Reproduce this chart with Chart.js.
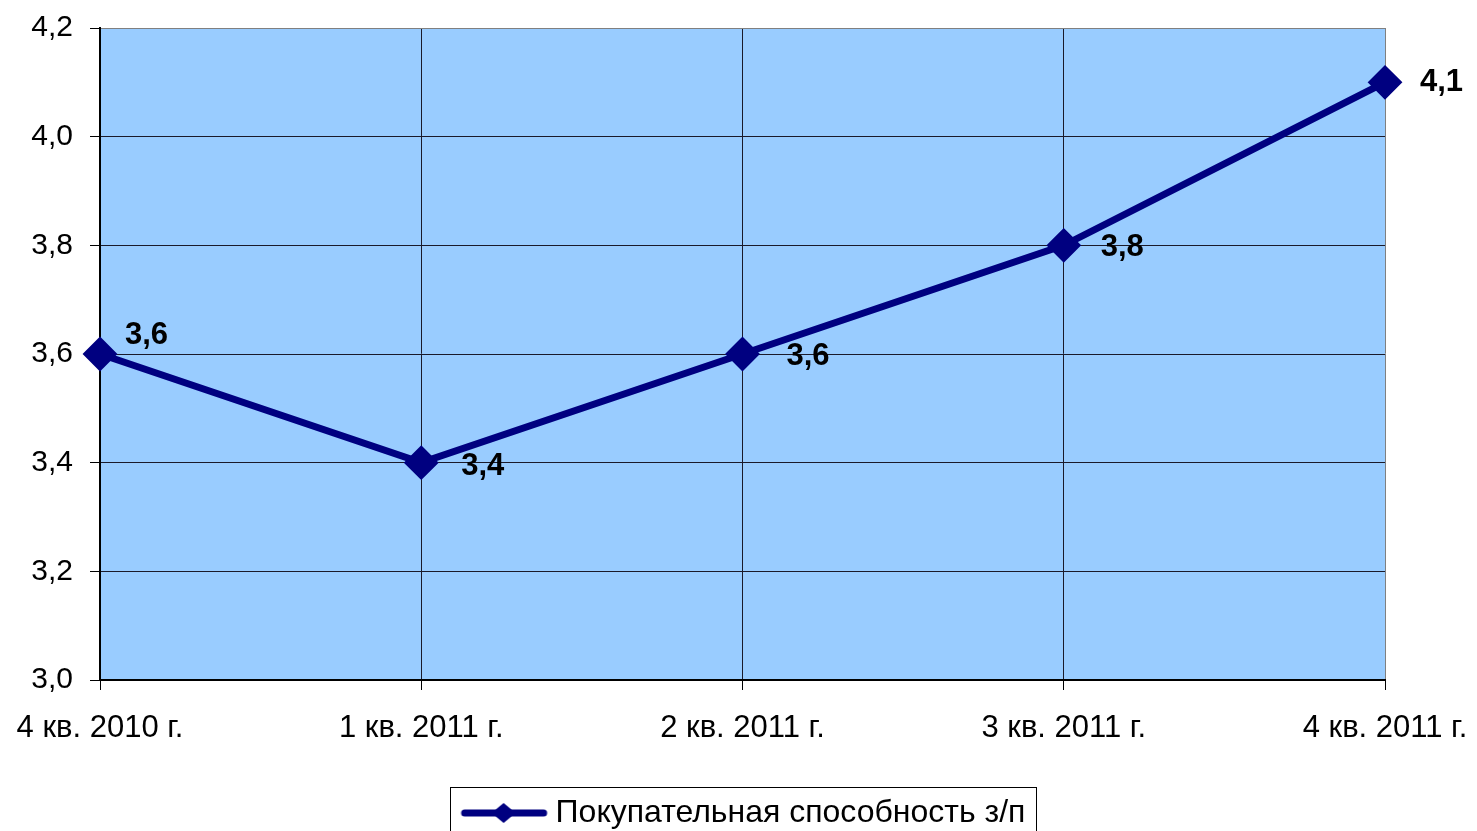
<!DOCTYPE html>
<html>
<head>
<meta charset="utf-8">
<script src="https://cdn.jsdelivr.net/npm/chart.js@4"></script>
<style>
  html, body { margin: 0; padding: 0; background: #fff; }
  #wrap { width: 1477px; height: 831px; }
</style>
</head>
<body>
<div id="wrap"><canvas id="grafica"></canvas></div>
<script>
// ── datos ─────────────────────────────────────────────
const periodos = ['4 кв. 2010 г.', '1 кв. 2011 г.', '2 кв. 2011 г.', '3 кв. 2011 г.', '4 кв. 2011 г.'];
const valores = [3.6, 3.4, 3.6, 3.8, 4.1];
const nombreSerie = 'Покупательная способность з/п';
const yMin = 3.0;
const yMax = 4.2;
const yPaso = 0.2;

const AZUL = '#000080';
const FONDO = '#99CCFF';
const FUENTE = '"Liberation Sans", Arial, sans-serif';

const coma = v => v.toFixed(1).replace('.', ',');

// icono de leyenda: línea con rombo
function iconoLeyenda() {
    const c = document.createElement('canvas');
    c.width = 100; c.height = 24;
    const g = c.getContext('2d');
    g.strokeStyle = AZUL;
    g.lineWidth = 7;
    g.lineCap = 'round';
    g.beginPath(); g.moveTo(15, 12); g.lineTo(94, 12); g.stroke();
    g.fillStyle = AZUL;
    g.beginPath();
    g.moveTo(54, 2); g.lineTo(66, 12); g.lineTo(54, 22); g.lineTo(42, 12);
    g.closePath(); g.fill();
    return c;
}

// fondo del área de trazado
const fondoPlot = {
    id: 'fondoPlot',
    beforeDraw(chart) {
        const a = chart.chartArea, ctx = chart.ctx;
        ctx.save();
        ctx.fillStyle = FONDO;
        ctx.fillRect(a.left, a.top, a.right - a.left, a.bottom - a.top);
        ctx.restore();
    }
};

// etiquetas de valores a la derecha de cada punto
const etiquetas = {
    id: 'etiquetas',
    afterDatasetsDraw(chart, args, opts) {
        const ctx = chart.ctx;
        const meta = chart.getDatasetMeta(0);
        ctx.save();
        ctx.font = 'bold 31px ' + FUENTE;
        ctx.fillStyle = '#000';
        ctx.textBaseline = 'middle';
        ctx.textAlign = 'left';
        meta.data.forEach((p, i) => {
            const d = opts.desplazamientos[i] || [38, 2];
            ctx.fillText(coma(valores[i]), p.x + d[0], p.y + d[1]);
        });
        ctx.restore();
    }
};

// marco de la leyenda
const marcoLeyenda = {
    id: 'marcoLeyenda',
    afterDraw(chart) {
        const lg = chart.legend;
        if (!lg || !lg.legendHitBoxes.length) return;
        const hb = lg.legendHitBoxes[0];
        const ctx = chart.ctx;
        ctx.save();
        ctx.strokeStyle = '#000';
        ctx.lineWidth = 1;
        ctx.strokeRect(Math.round(hb.left - 10) + 0.5, Math.round(lg.top) + 0.5,
            Math.round(hb.width + 20), 60);
        ctx.restore();
    }
};

new Chart(document.getElementById('grafica'), {
    type: 'line',
    data: {
        labels: periodos,
        datasets: [{
            label: nombreSerie,
            data: valores,
            borderColor: AZUL,
            backgroundColor: AZUL,
            borderWidth: 7,
            tension: 0,
            pointStyle: 'rectRot',
            pointRadius: 16,
            pointBorderWidth: 2,
            pointHoverRadius: 16
        }]
    },
    options: {
        responsive: true,
        maintainAspectRatio: false,
        animation: false,
        events: [],
        layout: { padding: { top: 28, right: 92, left: 0, bottom: -8 } },
        plugins: {
            tooltip: { enabled: false },
            etiquetas: {
                desplazamientos: [[25, -19], [40, 4], [44, 2], [37, 2], [35, 0]]
            },
            legend: {
                position: 'bottom',
                fullSize: false,
                labels: {
                    usePointStyle: true,
                    pointStyleWidth: 80,
                    padding: 10,
                    color: '#000',
                    font: { family: FUENTE, size: 32 },
                    generateLabels: chart => [{
                        text: nombreSerie,
                        pointStyle: iconoLeyenda(),
                        fillStyle: AZUL,
                        strokeStyle: AZUL,
                        lineWidth: 0,
                        datasetIndex: 0
                    }]
                }
            }
        },
        scales: {
            x: {
                offset: false,
                grid: {
                    color: ctx => ctx.index === periodos.length - 1 ? '#808080' : '#1a1a2a',
                    lineWidth: 1,
                    tickLength: 10,
                    tickColor: '#000'
                },
                border: { color: '#000', width: 2 },
                ticks: {
                    color: '#000',
                    padding: 20,
                    maxRotation: 0,
                    font: { family: FUENTE, size: 31 }
                },
                afterFit: s => {
                    s.height = 107;
                    s.paddingLeft = 0;
                    s.paddingRight = 0;
                }
            },
            y: {
                min: yMin,
                max: yMax,
                grid: {
                    color: ctx => ctx.tick && Math.abs(ctx.tick.value - yMax) < 1e-6 ? '#808080' : '#1a1a2a',
                    lineWidth: 1,
                    tickLength: 10,
                    tickColor: '#000'
                },
                border: { color: '#000', width: 2 },
                ticks: {
                    stepSize: yPaso,
                    color: '#000',
                    padding: 17,
                    font: { family: FUENTE, size: 30 },
                    callback: v => coma(v)
                },
                afterFit: s => {
                    s.width = 100;
                    s.paddingTop = 0;
                    s.paddingBottom = 0;
                }
            }
        }
    },
    plugins: [fondoPlot, etiquetas, marcoLeyenda]
});
</script>
</body>
</html>
